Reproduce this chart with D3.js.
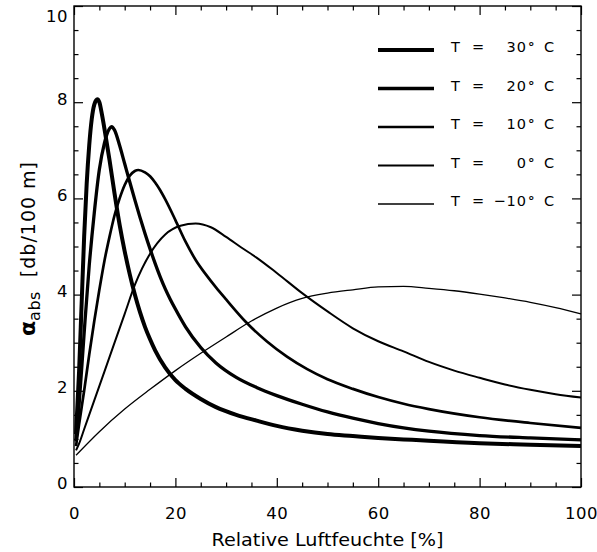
<!DOCTYPE html>
<html>
<head>
<meta charset="utf-8">
<script src="https://cdn.jsdelivr.net/npm/d3@7/dist/d3.min.js"></script>
<style>
  html, body { margin: 0; padding: 0; background: #fff; }
  svg { display: block; font-family: "DejaVu Sans", sans-serif; }
  .tick text { font-family: "DejaVu Sans", sans-serif; }
</style>
</head>
<body>
<svg id="chart" width="597" height="552"></svg>
<script>
// Sound absorption in air versus relative humidity, one curve per temperature
const temperatures = ["30", "20", "10", "0", "\u221210"];

const rhT30 = [0.4, 1, 1.5, 2, 2.5, 3, 3.5, 4, 4.6, 5, 5.5, 6, 7, 8, 9, 10, 11, 12, 13, 14, 15, 16, 18, 20, 22, 25, 28, 32, 36, 40, 45, 50, 55, 60, 65, 70, 80, 90, 100];
const alphaT30 = [1.1, 2.4, 3.8, 5.2, 6.3, 7.1, 7.65, 7.95, 8.06, 8.0, 7.75, 7.45, 6.8, 6.1, 5.45, 4.9, 4.42, 4.0, 3.64, 3.33, 3.07, 2.84, 2.48, 2.22, 2.04, 1.83, 1.66, 1.5, 1.38, 1.27, 1.17, 1.1, 1.06, 1.02, 0.99, 0.96, 0.91, 0.88, 0.85];

const rhT20 = [0.4, 1, 2, 3, 4, 5, 6, 7, 7.4, 8, 9, 10, 11, 12, 13, 14, 15, 16, 17, 18, 19, 20, 22, 25, 28, 32, 36, 40, 45, 50, 55, 60, 65, 70, 80, 90, 100];
const alphaT20 = [0.95, 1.7, 3.2, 4.6, 5.7, 6.6, 7.15, 7.45, 7.49, 7.42, 7.1, 6.72, 6.34, 5.97, 5.61, 5.27, 4.95, 4.65, 4.37, 4.12, 3.9, 3.7, 3.33, 2.9, 2.58, 2.28, 2.07, 1.9, 1.72, 1.56, 1.43, 1.32, 1.23, 1.16, 1.07, 1.02, 0.98];

const rhT10 = [0.4, 1, 2, 3, 4, 5, 6, 7, 8, 9, 10, 11, 12, 12.7, 14, 15, 16, 17, 18, 20, 22, 24, 26, 28, 30, 34, 38, 42, 46, 50, 55, 60, 65, 70, 80, 90, 100];
const alphaT10 = [0.85, 1.3, 2.0, 2.75, 3.45, 4.1, 4.7, 5.2, 5.65, 6.0, 6.28, 6.47, 6.57, 6.59, 6.54, 6.46, 6.33, 6.17, 5.98, 5.55, 5.1, 4.72, 4.42, 4.15, 3.9, 3.42, 3.03, 2.71, 2.45, 2.24, 2.04, 1.87, 1.73, 1.62, 1.45, 1.33, 1.23];

const rhT0 = [0.4, 1, 2, 4, 6, 8, 10, 12, 15, 18, 21, 24, 27, 30, 33, 36, 40, 45, 50, 55, 60, 65, 70, 75, 80, 85, 90, 95, 100];
const alphaT0 = [0.76, 0.9, 1.2, 1.8, 2.4, 3.0, 3.6, 4.2, 4.85, 5.25, 5.43, 5.48, 5.4, 5.2, 4.98, 4.77, 4.45, 4.03, 3.65, 3.3, 3.03, 2.82, 2.6, 2.42, 2.27, 2.13, 2.02, 1.93, 1.86];

const rhTm10 = [0.4, 5, 10, 15, 20, 25, 30, 35, 40, 45, 50, 55, 60, 65, 70, 75, 80, 85, 90, 95, 100];
const alphaTm10 = [0.66, 1.15, 1.62, 2.03, 2.42, 2.78, 3.12, 3.45, 3.72, 3.92, 4.03, 4.1, 4.16, 4.17, 4.13, 4.08, 4.01, 3.93, 3.84, 3.73, 3.6];

const xTicks = [0, 20, 40, 60, 80, 100];
const yTicks = [0, 2, 4, 6, 8, 10];

const rhSeries = [rhT30, rhT20, rhT10, rhT0, rhTm10];
const alphaSeries = [alphaT30, alphaT20, alphaT10, alphaT0, alphaTm10];

// stroke width per temperature, warmest drawn heaviest
const strokeWidths = [4, 3.3, 2.7, 2.0, 1.3];

const W = 597, H = 552;
const m = { left: 74, right: 16, top: 6, bottom: 65 };
const pw = W - m.left - m.right, ph = H - m.top - m.bottom;

const svg = d3.select("#chart");
const g = svg.append("g").attr("transform", `translate(${m.left},${m.top})`);

const x = d3.scaleLinear().domain([0, 100]).range([0, pw]);
const y = d3.scaleLinear().domain([0, 10]).range([ph, 0]);

const major = 9, minor = 4.5;
const xMinor = d3.range(0, 100.01, 5).filter(v => v % 20 !== 0);
const yMinor = d3.range(0, 10.01, 0.5).filter(v => v % 2 !== 0);

function styleAxis(sel) {
  sel.select(".domain").remove();
  sel.selectAll(".tick line").attr("stroke", "#000").attr("stroke-width", 1.2);
  sel.selectAll(".tick text").attr("fill", "#000").attr("font-size", 16.5);
}

// bottom axis with labels
const gxB = g.append("g").attr("transform", `translate(0,${ph})`)
  .call(d3.axisBottom(x).tickValues(xTicks).tickSizeInner(-major).tickSizeOuter(0).tickPadding(20).tickFormat(d3.format("d")));
styleAxis(gxB);
gxB.selectAll(".tick text").attr("letter-spacing", 0.5);
g.append("g").attr("transform", `translate(0,${ph})`)
  .call(d3.axisBottom(x).tickValues(xMinor).tickSize(-minor).tickFormat("")).call(styleAxis);
// top axis, ticks only
g.append("g").call(d3.axisTop(x).tickValues(xTicks).tickSize(-major).tickFormat("")).call(styleAxis);
g.append("g").call(d3.axisTop(x).tickValues(xMinor).tickSize(-minor).tickFormat("")).call(styleAxis);

// left axis with labels
const gyL = g.append("g")
  .call(d3.axisLeft(y).tickValues(yTicks).tickSizeInner(-major).tickSizeOuter(0).tickPadding(6).tickFormat(d3.format("d")));
styleAxis(gyL);
// labels sit slightly above their tick; the top label is kept inside the window
gyL.selectAll(".tick text").attr("dy", d => d === 10 ? "0.95em" : "0.12em").attr("letter-spacing", 0.5);
g.append("g").call(d3.axisLeft(y).tickValues(yMinor).tickSize(-minor).tickFormat("")).call(styleAxis);
// right axis, ticks only
g.append("g").attr("transform", `translate(${pw},0)`)
  .call(d3.axisRight(y).tickValues(yTicks).tickSize(-major).tickFormat("")).call(styleAxis);
g.append("g").attr("transform", `translate(${pw},0)`)
  .call(d3.axisRight(y).tickValues(yMinor).tickSize(-minor).tickFormat("")).call(styleAxis);

// plot frame
g.append("rect").attr("x", 0).attr("y", 0).attr("width", pw).attr("height", ph)
  .attr("fill", "none").attr("stroke", "#000").attr("stroke-width", 1.4);

// curves
const line = d3.line().x(d => x(d[0])).y(d => y(d[1])).curve(d3.curveMonotoneX);
g.append("g").selectAll("path")
  .data(rhSeries.map((rh, i) => rh.map((h, j) => [h, alphaSeries[i][j]])))
  .join("path")
  .attr("d", line)
  .attr("fill", "none")
  .attr("stroke", "#000")
  .attr("stroke-linejoin", "round")
  .attr("stroke-width", (d, i) => strokeWidths[i]);

// legend
const legY0 = 44, legDy = 38.5;
const leg = g.append("g");
temperatures.forEach((t, i) => {
  const yy = legY0 + i * legDy;
  leg.append("line").attr("x1", 378 - m.left).attr("x2", 434 - m.left)
    .attr("y1", yy).attr("y2", yy).attr("stroke", "#000").attr("stroke-width", strokeWidths[i]);
  const ty = yy + 2;
  leg.append("text").attr("x", 451 - m.left).attr("y", ty).attr("font-size", 14.5).text("T");
  leg.append("text").attr("x", 472 - m.left).attr("y", ty).attr("font-size", 14.5).text("=");
  leg.append("text").attr("x", 527 - m.left).attr("y", ty).attr("font-size", 14.5)
    .attr("text-anchor", "end").attr("letter-spacing", 1).text(t);
  leg.append("text").attr("x", 528 - m.left).attr("y", ty - 1).attr("font-size", 13).attr("font-weight", "bold").text("\u00b0");
  leg.append("text").attr("x", 544 - m.left).attr("y", ty).attr("font-size", 14.5).text("C");
});

// axis titles
svg.append("text").attr("x", m.left + pw / 2).attr("y", 546).attr("text-anchor", "middle")
  .attr("font-size", 17).attr("textLength", 232).attr("lengthAdjust", "spacingAndGlyphs")
  .text("Relative Luftfeuchte [%]");

const yt = svg.append("text")
  .attr("transform", `translate(35,${m.top + ph / 2 + 2}) rotate(-90)`)
  .attr("text-anchor", "middle").attr("font-size", 19);
yt.append("tspan").attr("font-size", 22).attr("font-weight", "bold").text("\u03b1");
yt.append("tspan").attr("font-size", 16).attr("baseline-shift", "-30%").attr("letter-spacing", 0.5).text("abs");
yt.append("tspan").attr("dx", 14).attr("letter-spacing", 1).text("[db/100 m]");
</script>
</body>
</html>
